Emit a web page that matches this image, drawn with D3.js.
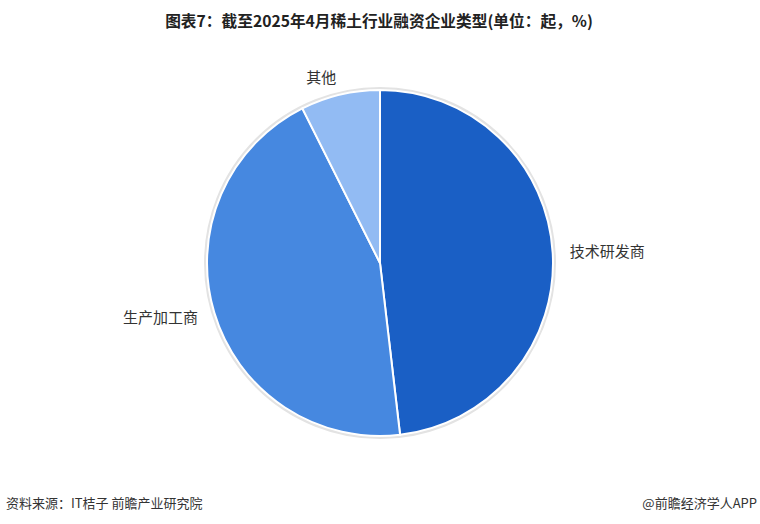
<!DOCTYPE html>
<html><head><meta charset="utf-8">
<script src="https://cdn.jsdelivr.net/npm/d3@7"></script>
<style>body{margin:0;background:#fff;}svg{display:block;}</style>
</head><body>
<script>
const categories = ["技术研发商", "生产加工商", "其他"];
const values = [13, 12, 2];
const colors = ["#1a5fc5", "#4688e0", "#92bbf3"];
const title = "图表7：截至2025年4月稀土行业融资企业类型(单位：起，%)";
const source = "资料来源：IT桔子 前瞻产业研究院";
const brand = "@前瞻经济学人APP";

const W = 760, H = 524, cx = 380, cy = 263, R = 173;
const svg = d3.select("body").append("svg").attr("width", W).attr("height", H);
svg.append("rect").attr("width", W).attr("height", H).attr("fill", "#fff");

svg.append("text").attr("x", 379).attr("y", 27).attr("text-anchor", "middle")
  .attr("font-family", "'Noto Sans CJK SC', sans-serif").attr("font-weight", "bold")
  .attr("font-size", 15.7).attr("fill", "#222").text(title);

const data = categories.map((c, i) => ({name: c, value: values[i], color: colors[i]}));
const pie = d3.pie().value(d => d.value).sort(null);
const arcs = pie(data);
const arc = d3.arc().innerRadius(0).outerRadius(R);
const g = svg.append("g").attr("transform", `translate(${cx},${cy})`);

g.append("circle").attr("r", R + 1.5).attr("fill", "none").attr("stroke", "#e3e3e3").attr("stroke-width", 3);
g.selectAll("path").data(arcs).join("path")
  .attr("d", arc).attr("fill", d => d.data.color)
  .attr("stroke", "#fff").attr("stroke-width", 2);

const labelR = 190;
g.selectAll("text.lbl").data(arcs).join("text").attr("class", "lbl")
  .each(function(d) {
    const a = (d.startAngle + d.endAngle) / 2;
    const x = labelR * Math.sin(a), y = -labelR * Math.cos(a);
    d3.select(this).attr("x", x > 10 || x < -40 ? x : x - 8).attr("y", y)
      .attr("text-anchor", x > 10 ? "start" : "end");
  })
  .attr("dy", "0.35em")
  .attr("font-family", "'Noto Sans CJK SC', sans-serif").attr("font-size", 15)
  .attr("fill", "#333").text(d => d.data.name);

svg.append("text").attr("x", 6).attr("y", 508)
  .attr("font-family", "'Noto Sans CJK SC', sans-serif").attr("font-size", 13)
  .attr("fill", "#333").text(source);
svg.append("text").attr("x", 757).attr("y", 508).attr("text-anchor", "end")
  .attr("font-family", "'Noto Sans CJK SC', sans-serif").attr("font-size", 13)
  .attr("fill", "#333").text(brand);
</script>
</body></html>
